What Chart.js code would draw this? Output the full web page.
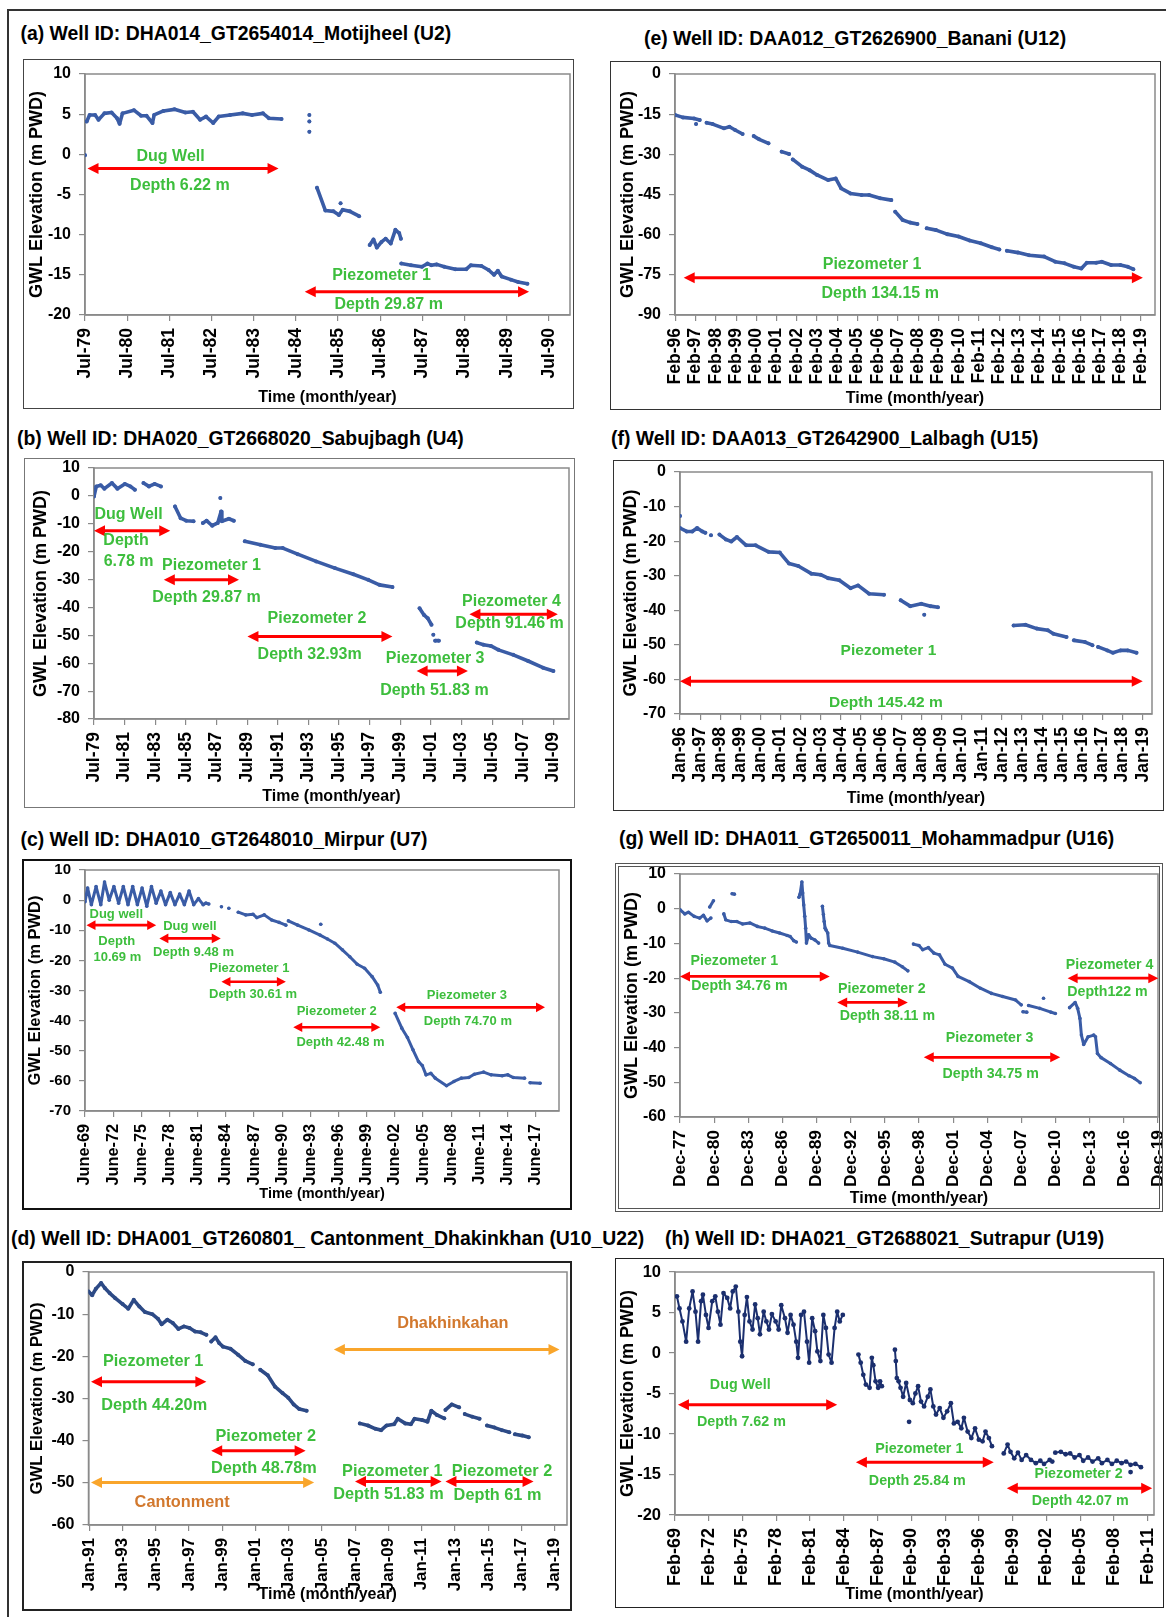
<!DOCTYPE html>
<html><head><meta charset="utf-8">
<script src="https://cdn.jsdelivr.net/npm/chart.js@4/dist/chart.umd.min.js"></script>
<style>
body{margin:0;background:#fff;}
#page{position:relative;width:1166px;height:1617px;background:#fff;overflow:hidden;font-family:"Liberation Sans",Arial,sans-serif;}
.ttl{position:absolute;font-weight:bold;font-size:19.4px;line-height:1;color:#000;white-space:nowrap;}
.box{position:absolute;box-sizing:border-box;pointer-events:none;}
canvas{position:absolute;}
#frameL{position:absolute;left:7px;top:9px;width:1.5px;height:1610px;background:#333;}
#frameT{position:absolute;left:7px;top:9px;width:1160px;height:1.5px;background:#333;}
</style></head>
<body><div id="page"><div id="frameL"></div><div id="frameT"></div></div>
<script>
// ---------------- (a) Motijheel ----------------
const aTicks = [1979.5,1980.5,1981.5,1982.5,1983.5,1984.5,1985.5,1986.5,1987.5,1988.5,1989.5,1990.5];
const aTickLabels = ['Jul-79','Jul-80','Jul-81','Jul-82','Jul-83','Jul-84','Jul-85','Jul-86','Jul-87','Jul-88','Jul-89','Jul-90'];
const aYears = [
 [1979.5],
 [1979.54,1979.61,1979.74,1979.82,1979.96,1980.13,1980.26,1980.32,1980.39,1980.66,1980.83,1980.96,1981.10,1981.14,1981.36,1981.62,1981.88,1982.06,1982.23,1982.37,1982.54,1982.67,1982.94,1983.24,1983.46,1983.72,1983.86,1984.16],
 [1984.82],[1984.82],[1984.82],
 [1985.0,1985.2,1985.39,1985.52,1985.61,1985.78,1986.0],
 [1985.56],
 [1986.25,1986.34,1986.42,1986.53,1986.63,1986.75,1986.86,1986.95,1986.99],
 [1987.0,1987.23,1987.49,1987.62,1987.71,1987.84,1988.02,1988.28,1988.54,1988.65,1988.9,1989.07,1989.2,1989.29,1989.38,1989.6,1989.77,1989.99]
];
const aLevels = [
 [-0.1],
 [4.1,4.9,4.9,4.3,5.1,5.2,4.5,3.8,5.1,5.5,4.8,4.8,3.9,4.9,5.4,5.6,5.2,5.3,4.3,4.7,3.9,4.7,4.9,5.1,4.9,5.1,4.5,4.4],
 [4.9],[4.1],[2.8],
 [-4.15,-7.0,-7.1,-7.55,-6.9,-7.1,-7.7],
 [-6.1],
 [-11.3,-10.6,-11.6,-10.9,-10.5,-11.1,-9.4,-9.8,-10.5],
 [-13.6,-13.8,-14.0,-13.6,-13.8,-13.7,-14.0,-14.3,-14.3,-13.8,-13.9,-14.4,-15.0,-14.5,-15.2,-15.6,-15.9,-16.1]
];
const aArrows = [[1979.56,1984.09,-1.75],[1984.71,1990.03,-17.1]];
const aNotes = [['Dug Well',1981.53,-0.3],['Depth 6.22 m',1981.75,-3.9],['Piezometer 1',1986.53,-15.15],['Depth 29.87 m',1986.7,-18.75]];

// ---------------- (e) Banani ----------------
const eTicks = [1996.08,1997.08,1998.08,1999.08,2000.08,2001.08,2002.08,2003.08,2004.08,2005.08,2006.08,2007.08,2008.08,2009.08,2010.08,2011.08,2012.08,2013.08,2014.08,2015.08,2016.08,2017.08,2018.08,2019.08];
const eTickLabels = ['Feb-96','Feb-97','Feb-98','Feb-99','Feb-00','Feb-01','Feb-02','Feb-03','Feb-04','Feb-05','Feb-06','Feb-07','Feb-08','Feb-09','Feb-10','Feb-11','Feb-12','Feb-13','Feb-14','Feb-15','Feb-16','Feb-17','Feb-18','Feb-19'];
const eYears = [
 [1996.06,1996.45,1997.0,1997.28],
 [1997.1],
 [1997.62,1997.92,1998.48,1998.75,1999.03,1999.4],
 [1999.95,2000.22,2000.68],
 [2001.33,2001.7],
 [2001.88,2002.34,2002.71,2003.08,2003.63,2004.0,2004.27,2004.73,2005.28,2005.65,2006.2,2006.75],
 [2006.94,2007.31,2007.68,2008.04],
 [2008.5,2008.96,2009.51,2010.07,2010.62,2011.17,2011.72,2012.09],
 [2012.46,2013.01,2013.56,2014.3,2014.85,2015.31,2015.77,2016.14,2016.41,2016.87,2017.15,2017.61,2018.07,2018.44,2018.71]
];
const eLevels = [
 [-15.3,-16.2,-16.6,-17.2],
 [-18.7],
 [-18.2,-18.7,-20.3,-19.7,-20.9,-22.4],
 [-23.2,-24.4,-25.9],
 [-29.0,-29.9],
 [-31.9,-34.6,-35.9,-37.7,-39.6,-39.0,-42.7,-44.6,-45.2,-45.2,-46.4,-47.1],
 [-51.4,-54.5,-55.5,-56.0],
 [-57.6,-58.3,-59.8,-60.7,-62.2,-63.2,-64.7,-65.5],
 [-66.0,-66.7,-67.7,-68.2,-70.1,-70.7,-72.0,-72.6,-70.5,-70.5,-70.1,-71.3,-71.3,-72.0,-72.9]
];
const eArrows = [[1996.49,2019.18,-76.1]];
const eNotes = [['Piezometer 1',2005.8,-71.3],['Depth 134.15 m',2006.2,-81.9]];

// ---------------- (b) Sabujbagh ----------------
const bTicks = [1979.5,1981.5,1983.5,1985.5,1987.5,1989.5,1991.5,1993.5,1995.5,1997.5,1999.5,2001.5,2003.5,2005.5,2007.5,2009.5];
const bTickLabels = ['Jul-79','Jul-81','Jul-83','Jul-85','Jul-87','Jul-89','Jul-91','Jul-93','Jul-95','Jul-97','Jul-99','Jul-01','Jul-03','Jul-05','Jul-07','Jul-09'];
const bYears = [
 [1979.5,1979.65,1979.94,1980.18,1980.67,1981.03,1981.51,1981.88,1982.17],
 [1982.73,1983.09,1983.46,1983.87],
 [1984.79,1985.16,1985.52,1986.0],
 [1986.61,1986.85,1987.22,1987.58,1987.8,1987.85,1988.31,1988.63],
 [1987.75],
 [1989.35,1990.37,1991.34,1991.83,1992.8,1994.01,1995.23,1996.44,1997.41,1998.14,1998.99],
 [2000.76,2001.05,2001.3,2001.54],
 [2001.66],
 [2001.78,2002.02],
 [2004.5,2004.94,2005.42,2005.91,2006.88,2007.85,2008.82,2009.5]
];
const bLevels = [
 [-0.2,3.4,3.8,2.6,4.6,2.6,4.3,3.4,2.2],
 [4.6,3.4,4.3,3.4],
 [-3.8,-8.0,-8.9,-9.1],
 [-9.7,-8.9,-10.7,-9.7,-5.6,-9.1,-8.2,-8.9],
 [-0.8],
 [-16.3,-17.5,-18.7,-18.7,-20.9,-23.5,-25.9,-28.1,-30.1,-31.9,-32.7],
 [-40.3,-42.7,-43.9,-46.2],
 [-49.8],
 [-51.9,-51.9],
 [-52.6,-53.4,-53.8,-55.2,-57.0,-59.2,-61.6,-62.8]
];
const bArrows = [[1979.5,1984.48,-12.5],[1984.06,1988.97,-30.1],[1989.52,1998.99,-50.4],[2000.57,2003.92,-62.8],[2004.02,2009.79,-42.4]];
const bNotes = [['Dug Well',1981.76,-6.8],['Depth',1981.59,-16.1],['6.78 m',1981.76,-23.5],['Piezometer 1',1987.17,-24.9],['Depth 29.87 m',1986.85,-36.4],['Piezometer 2',1994.06,-43.9],['Depth 32.93m',1993.58,-56.8],['Piezometer 3',2001.78,-58.5],['Depth 51.83 m',2001.73,-69.9],['Piezometer 4',2006.76,-37.9],['Depth 91.46 m',2006.64,-45.9]];

// ---------------- (f) Lalbagh ----------------
const fTicks = [1996,1997,1998,1999,2000,2001,2002,2003,2004,2005,2006,2007,2008,2009,2010,2011,2012,2013,2014,2015,2016,2017,2018,2019];
const fTickLabels = ['Jan-96','Jan-97','Jan-98','Jan-99','Jan-00','Jan-01','Jan-02','Jan-03','Jan-04','Jan-05','Jan-06','Jan-07','Jan-08','Jan-09','Jan-10','Jan-11','Jan-12','Jan-13','Jan-14','Jan-15','Jan-16','Jan-17','Jan-18','Jan-19'];
const fYears = [
 [1996.0],
 [1996.0,1996.33,1996.61,1996.85,1997.11,1997.26],
 [1997.54],
 [1997.96,1998.28,1998.55,1998.83,1999.29,1999.76,2000.4,2000.96,2001.42,2001.88,2002.53,2002.99,2003.36,2003.92,2004.48,2004.85,2005.4,2006.14],
 [2006.97,2007.44,2007.99,2008.45,2008.82],
 [2008.14],
 [2012.58,2013.17,2013.73,2014.28,2014.56,2015.21],
 [2015.58,2016.13,2016.5],
 [2016.78,2017.24,2017.52,2017.89,2018.26,2018.69]
];
const fLevels = [
 [-12.7],
 [-16.2,-17.2,-17.2,-16.2,-17.2,-17.6],
 [-18.3],
 [-18.1,-19.5,-20.1,-18.8,-21.2,-21.2,-23.1,-23.3,-26.5,-27.2,-29.4,-29.7,-30.7,-31.3,-33.6,-32.8,-35.2,-35.5],
 [-37.1,-38.8,-38.1,-38.8,-39.1],
 [-41.3],
 [-44.4,-44.2,-45.3,-45.8,-46.8,-47.7],
 [-48.7,-49.2,-50.1],
 [-50.6,-51.6,-52.3,-51.6,-51.6,-52.3]
];
const fArrows = [[1996.0,2019.0,-60.5]];
const fNotes = [['Piezometer 1',2006.36,-51.6],['Depth 145.42 m',2006.23,-66.7]];

// ---------------- (c) Mirpur ----------------
const cTicks = [1969.42,1972.42,1975.42,1978.42,1981.42,1984.42,1987.42,1990.42,1993.42,1996.42,1999.42,2002.42,2005.42,2008.42,2011.42,2014.42,2017.42];
const cTickLabels = ['June-69','June-72','June-75','June-78','June-81','June-84','June-87','June-90','June-93','June-96','June-99','June-02','June-05','June-08','June-11','June-14','June-17'];
const cYears = [
 [1969.42,1969.7,1970.1,1970.6,1971.1,1971.5,1972.0,1972.5,1973.0,1973.5,1974.0,1974.5,1975.0,1975.5,1976.0,1976.5,1977.0,1977.5,1978.0,1978.5,1979.0,1979.5,1980.0,1980.5,1981.0,1981.5,1982.0,1982.3,1982.6],
 [1983.95],[1984.74],
 [1985.74,1986.53,1987.32,1987.72,1988.51,1989.3,1990.09,1990.81],
 [1991.08,1992.07,1993.26,1994.45,1995.24,1996.03,1996.83,1997.62,1998.41,1999.2,2000.0,2000.59,2000.87],
 [1994.53],
 [2002.45,2003.16,2003.76,2004.35,2004.94,2005.34,2005.74,2006.25,2006.73,2007.92,2008.71,2009.5,2010.29,2010.88,2011.87,2012.67,2013.85,2014.45,2015.04,2016.23],
 [2016.82,2017.89]
];
const cLevels = [
 [-0.5,4.0,-1.5,4.5,-1.5,6.0,0.0,4.5,-1.0,4.5,-1.5,4.5,-1.5,4.0,-2.0,4.5,-1.0,3.0,-1.5,2.5,-1.5,2.0,-1.5,3.0,-1.5,0.5,-1.5,-1.0,-1.3],
 [-2.2],[-2.7],
 [-4.0,-4.9,-4.7,-5.8,-4.9,-6.6,-7.4,-8.3],
 [-6.9,-8.3,-9.9,-11.6,-12.9,-14.3,-16.5,-18.8,-21.3,-22.6,-25.4,-28.2,-30.6],
 [-8.0],
 [-37.6,-42.5,-45.6,-49.7,-53.6,-54.9,-58.0,-57.5,-59.1,-61.6,-60.2,-59.1,-58.9,-57.8,-57.1,-58.0,-58.3,-58.0,-58.9,-59.1],
 [-60.6,-60.8]
];
const cArrows = [[1969.58,1977.0,-8.3],[1977.34,1983.88,-12.7],[1983.95,1990.81,-27.1],[1991.6,2000.87,-42.2],[2002.57,2018.41,-35.6]];
const cNotes = [['Dug well',1972.75,-4.9],['Depth',1972.8,-13.6],['10.69 m',1972.87,-19.1],['Dug well',1980.59,-8.6],['Depth 9.48 m',1980.98,-17.3],['Piezometer 1',1986.92,-22.6],['Depth 30.61 m',1987.32,-31.3],['Piezometer 2',1996.23,-37.0],['Depth 42.48 m',1996.63,-47.3],['Piezometer 3',2010.09,-31.5],['Depth 74.70 m',2010.2,-40.3]];

// ---------------- (g) Mohammadpur ----------------
const gTicks = [1977.92,1980.92,1983.92,1986.92,1989.92,1992.92,1995.92,1998.92,2001.92,2004.92,2007.92,2010.92,2013.92,2016.92,2019.92];
const gTickLabels = ['Dec-77','Dec-80','Dec-83','Dec-86','Dec-89','Dec-92','Dec-95','Dec-98','Dec-01','Dec-04','Dec-07','Dec-10','Dec-13','Dec-16','Dec-19'];
const gYears = [
 [1977.92,1978.34,1978.67,1979.16,1979.65,1979.98,1980.3,1980.63],
 [1980.53,1980.86],
 [1981.77,1981.94,1982.43,1982.92,1983.41,1984.06,1984.71,1985.37,1986.02,1986.67,1987.33,1987.6,1987.91,1988.14],
 [1982.5,1982.7],
 [1988.37,1988.47,1988.63,1988.7,1988.79,1988.88,1988.96,1989.03,1989.22,1989.45,1989.77,1990.1],
 [1990.43,1990.52,1990.59,1990.67,1990.75,1990.9,1990.98,1991.08,1992.22,1993.53,1994.84,1995.82,1996.8,1997.45,1997.94],
 [1998.43,1998.92,1999.25,1999.74,2000.23,2000.72,2001.21,2001.86,2002.35,2003.33,2004.31,2005.29,2006.27,2007.41,2007.9],
 [2008.06,2008.39],
 [2008.55,2009.53,2010.51,2010.9],
 [2009.86],
 [2012.15,2012.64,2012.86,2013.06,2013.19,2013.39,2013.78,2014.27,2014.43,2014.6,2014.92,2015.74,2016.56,2017.37,2017.86,2018.35]
];
const gLevels = [
 [-0.3,-1.5,-1.0,-2.2,-2.7,-1.9,-3.5,-2.7],
 [0.5,2.3],
 [-1.5,-3.2,-3.7,-3.7,-4.4,-4.1,-5.1,-5.6,-6.4,-7.0,-7.7,-8.0,-9.2,-9.6],
 [4.3,4.2],
 [3.3,4.2,7.7,4.5,1.1,-2.2,-5.6,-9.9,-7.5,-8.5,-9.0,-9.9],
 [0.7,-1.7,-3.7,-5.6,-6.1,-7.0,-9.9,-10.6,-11.4,-12.5,-13.8,-14.4,-15.4,-16.7,-17.9],
 [-10.2,-10.6,-11.8,-11.2,-12.8,-13.3,-16.0,-17.1,-19.5,-21.0,-22.9,-24.4,-25.3,-26.3,-27.7],
 [-29.7,-29.8],
 [-27.9,-28.7,-29.8,-30.2],
 [-25.8],
 [-28.5,-27.0,-28.7,-31.6,-36.4,-39.1,-36.9,-36.4,-36.9,-41.7,-42.9,-44.6,-46.5,-48.1,-48.9,-50.1]
];
const gArrows = [[1977.92,1991.08,-19.5],[1991.73,1997.94,-27.0],[1999.34,2011.33,-42.8],[2011.98,2019.95,-20.0]];
const gNotes = [['Piezometer 1',1982.69,-15.0],['Depth 34.76 m',1983.14,-22.4],['Piezometer 2',1995.65,-23.1],['Depth 38.11 m',1996.14,-30.8],['Piezometer 3',2005.12,-37.4],['Depth 34.75 m',2005.22,-47.5],['Piezometer 4',2015.67,-16.2],['Depth122 m',2015.48,-23.9]];

// ---------------- (d) Cantonment_Dhakinkhan ----------------
const dTicks = [1991,1993,1995,1997,1999,2001,2003,2005,2007,2009,2011,2013,2015,2017,2019];
const dTickLabels = ['Jan-91','Jan-93','Jan-95','Jan-97','Jan-99','Jan-01','Jan-03','Jan-05','Jan-07','Jan-09','Jan-11','Jan-13','Jan-15','Jan-17','Jan-19'];
const dYears = [
 [1990.96,1991.18,1991.4,1991.72,1991.94,1992.23,1992.57,1993.01,1993.35,1993.68,1994.02,1994.35,1994.8,1995.14,1995.36,1995.7,1996.03,1996.37,1996.7,1997.04,1997.37,1997.71,1998.05],
 [1998.34,1998.6,1998.83,1999.05,1999.5,1999.95,2000.39,2000.84],
 [2001.29,2001.74,2002.18,2002.63,2002.97,2003.3,2003.64,2004.08],
 [2007.28,2007.77,2008.22,2008.56,2008.89,2009.34,2009.56,2010.01,2010.35,2010.57,2011.02,2011.35,2011.58,2011.91,2012.36],
 [2012.43,2012.81,2013.25],
 [2013.59,2014.04,2014.48],
 [2014.93,2015.38,2015.83,2016.27],
 [2016.61,2017.06,2017.44]
];
const dLevels = [
 [-4.6,-5.5,-4.0,-2.6,-3.8,-5.0,-6.2,-7.6,-8.7,-6.6,-8.2,-9.5,-10.0,-11.1,-12.4,-11.3,-12.1,-13.5,-12.9,-13.3,-14.1,-14.3,-14.9],
 [-16.5,-15.5,-16.9,-17.7,-18.2,-19.6,-21.1,-21.9],
 [-23.2,-24.5,-27.2,-28.7,-29.8,-31.4,-32.5,-32.9],
 [-35.9,-36.4,-37.2,-37.5,-36.4,-36.1,-34.8,-35.9,-36.1,-34.8,-35.1,-35.5,-32.9,-33.9,-34.7],
 [-32.7,-31.4,-32.1],
 [-33.7,-34.3,-34.8],
 [-36.4,-36.9,-37.5,-38.0],
 [-38.5,-38.8,-39.2]
];
const dArrows = [[1991.11,1998.05,-26.0],[1998.34,2004.02,-42.4],[1991.11,2004.53,-49.9,'#F9A52B'],[2005.72,2019.29,-18.4,'#F9A52B'],[2006.99,2012.2,-49.7],[2012.43,2017.73,-49.7]];
const dNotes = [['Piezometer 1',1994.85,-21.2],['Depth 44.20m',1994.91,-31.7],['Piezometer 2',2001.62,-39.1],['Depth 48.78m',2001.51,-46.6],['Cantonment',1996.59,-54.6,'#D2782D'],['Dhakhinkahan',2012.87,-12.1,'#D2782D'],['Piezometer 1',2009.23,-47.2],['Depth 51.83 m',2009.0,-52.7],['Piezometer 2',2015.83,-47.2],['Depth 61 m',2015.56,-53.0]];

// ---------------- (h) Sutrapur ----------------
const hTicks = [1969.08,1972.08,1975.08,1978.08,1981.08,1984.08,1987.08,1990.08,1993.08,1996.08,1999.08,2002.08,2005.08,2008.08,2011.08];
const hTickLabels = ['Feb-69','Feb-72','Feb-75','Feb-78','Feb-81','Feb-84','Feb-87','Feb-90','Feb-93','Feb-96','Feb-99','Feb-02','Feb-05','Feb-08','Feb-11'];
const hYears = [
 [1969.25,1969.48,1969.74,1970.07,1970.34,1970.64,1970.9,1971.13,1971.4,1971.56,1971.83,1972.06,1972.39,1972.66,1972.89,1973.12,1973.39,1973.72,1973.98,1974.21,1974.48,1974.71,1974.88,1975.04,1975.27,1975.47,1975.7,1975.97,1976.2,1976.43,1976.63,1976.96,1977.2,1977.43,1977.69,1978.02,1978.29,1978.52,1978.85,1979.08,1979.35,1979.61,1979.85,1980.01,1980.28,1980.54,1980.81,1981.0,1981.27,1981.53,1981.73,1982.0,1982.26,1982.49,1982.73,1982.99,1983.26,1983.49,1983.72,1983.99],
 [1985.38,1985.58,1985.81,1986.04,1986.37,1986.57,1986.7,1986.9,1987.13,1987.3,1987.46],
 [1988.62,1988.7,1988.79,1988.95,1989.12,1989.35,1989.62,1989.95,1990.21,1990.44,1990.68,1990.94,1991.21,1991.54,1991.77,1992.03,1992.27,1992.6,1992.93,1993.26,1993.59,1993.86,1994.19,1994.52,1994.75,1995.08,1995.41,1995.74,1996.08,1996.41,1996.67,1996.97,1997.24],
 [1989.88],
 [1998.29,1998.63,1998.89,1999.22,1999.55,1999.88,2000.28,2000.71,2001.14,2001.54,2001.87,2002.37,2002.6],
 [2002.87,2003.36,2003.79,2004.19,2004.59,2005.02,2005.35,2005.78,2006.18,2006.68,2007.01,2007.5,2007.9,2008.33,2008.76,2009.16,2009.56,2009.99,2010.48],
 [2009.56]
];
const hLevels = [
 [7.0,5.5,3.9,1.4,5.5,7.6,5.1,1.4,6.4,7.2,4.7,3.1,6.4,7.0,5.1,3.5,7.4,6.8,5.5,7.6,8.2,5.1,1.4,-0.4,4.7,6.9,3.9,2.9,6.0,4.3,2.3,5.1,3.9,2.9,4.8,3.9,2.9,5.9,4.3,2.5,4.7,3.5,1.4,-0.6,4.7,5.1,1.4,-1.2,4.3,2.7,0.2,-1.0,4.7,3.1,-0.2,-1.2,3.1,5.1,3.9,4.7],
 [-0.2,-1.2,-2.7,-3.9,-4.3,-0.6,-1.5,-3.5,-4.3,-3.5,-4.1],
 [0.4,-1.0,-3.1,-3.5,-4.3,-5.4,-3.7,-5.8,-6.2,-5.0,-4.1,-6.0,-6.6,-5.4,-4.5,-6.6,-7.6,-6.8,-8.0,-7.2,-6.2,-8.7,-8.5,-9.3,-8.0,-9.7,-10.5,-9.3,-10.7,-10.9,-9.7,-10.5,-11.5],
 [-8.5],
 [-12.4,-11.3,-12.2,-13.0,-12.3,-13.2,-12.6,-13.2,-13.6,-13.3,-13.7,-13.2,-13.4],
 [-12.3,-12.2,-12.5,-12.4,-12.9,-12.6,-13.3,-12.9,-13.4,-13.0,-13.6,-13.2,-13.7,-13.3,-13.6,-13.4,-13.8,-13.7,-14.1],
 [-14.7]
];
const hArrows = [[1969.34,1983.49,-6.4],[1985.15,1997.4,-13.5],[1998.56,2011.48,-16.7]];
const hNotes = [['Dug Well',1974.88,-3.9],['Depth 7.62 m',1974.98,-8.5],['Piezometer 1',1990.78,-11.8],['Depth 25.84 m',1990.61,-15.75],['Piezometer 2',2004.95,-15.0],['Depth 42.07 m',2005.08,-18.3]];

// ---------------- drawing ----------------
const FONT = '"Liberation Sans", Arial, sans-serif';
const GREEN = '#3DBE3D', RED = '#FF0000';
Chart.defaults.font.family = FONT;

Chart.register({
  id: 'notes',
  beforeDatasetsDraw(chart) {
    const a = chart.chartArea, ctx = chart.ctx;
    ctx.save(); ctx.strokeStyle = '#8A8A8A'; ctx.lineWidth = 1.5;
    ctx.strokeRect(a.left, a.top, a.right - a.left, a.bottom - a.top);
    ctx.restore();
  },
  afterDatasetsDraw(chart, args, o) {
    const ctx = chart.ctx, sx = chart.scales.x, sy = chart.scales.y;
    ctx.save();
    (o.arrows || []).forEach(r => {
      const x1 = sx.getPixelForValue(r[0]), x2 = sx.getPixelForValue(r[1]), y = sy.getPixelForValue(r[2]);
      const c = r[3] || RED;
      ctx.strokeStyle = c; ctx.fillStyle = c; ctx.lineWidth = o.lw;
      ctx.beginPath(); ctx.moveTo(x1 + o.hl * 0.8, y); ctx.lineTo(x2 - o.hl * 0.8, y); ctx.stroke();
      ctx.beginPath(); ctx.moveTo(x1, y); ctx.lineTo(x1 + o.hl, y - o.hw); ctx.lineTo(x1 + o.hl, y + o.hw); ctx.closePath(); ctx.fill();
      ctx.beginPath(); ctx.moveTo(x2, y); ctx.lineTo(x2 - o.hl, y - o.hw); ctx.lineTo(x2 - o.hl, y + o.hw); ctx.closePath(); ctx.fill();
    });
    ctx.font = 'bold ' + o.size + 'px ' + FONT;
    ctx.textAlign = 'center'; ctx.textBaseline = 'middle';
    (o.texts || []).forEach(t => {
      ctx.fillStyle = t[3] || GREEN;
      ctx.fillText(t[0], sx.getPixelForValue(t[1]), sy.getPixelForValue(t[2]));
    });
    ctx.restore();
  }
});

function buildSets(segX, segY, color, lw, pr) {
  return segX.map((xs, i) => ({
    data: xs.map((x, j) => ({x: x, y: segY[i][j]})),
    showLine: true, borderColor: color, backgroundColor: color, borderWidth: lw,
    pointRadius: pr, pointBorderWidth: 0, pointBackgroundColor: color, tension: 0,
    borderJoinStyle: 'round', borderCapStyle: 'round'
  }));
}

function panel(p) {
  const page = document.getElementById('page');
  const [bL, bT, bR, bB] = p.box, [pL, pT, pR, pB] = p.plot;
  const W = bR - bL, H = bB - bT;
  const t = document.createElement('div');
  t.className = 'ttl'; t.textContent = p.title;
  t.style.left = p.tpos[0] + 'px'; t.style.top = (p.tpos[1] - 9.5) + 'px';
  page.appendChild(t);
  const cv = document.createElement('canvas');
  cv.width = W; cv.height = H;
  cv.style.left = bL + 'px'; cv.style.top = bT + 'px'; cv.style.width = W + 'px'; cv.style.height = H + 'px';
  page.appendChild(cv);
  const fr = document.createElement('div');
  fr.className = 'box';
  fr.style.left = bL + 'px'; fr.style.top = bT + 'px'; fr.style.width = W + 'px'; fr.style.height = H + 'px';
  fr.style.border = p.border;
  page.appendChild(fr);
  const axisGrey = '#8A8A8A';
  new Chart(cv, {
    type: 'scatter',
    data: {datasets: buildSets(p.xs, p.ys, p.color, p.lw, p.pr)},
    options: {
      responsive: false, animation: false, devicePixelRatio: 1,
      layout: {padding: {left: 0, top: pT - bT, right: bR - pR, bottom: 0}},
      plugins: {legend: {display: false}, tooltip: {enabled: false},
        notes: {arrows: p.arrows, texts: p.notes, size: p.noteSize, lw: p.alw, hl: p.ahl, hw: p.ahw}},
      scales: {
        x: {
          type: 'linear', position: 'bottom', min: p.xmin, max: p.xmax,
          afterBuildTicks: s => { s.ticks = p.ticks.map(v => ({value: v})); },
          afterFit: s => { s.height = bB - pB; s.paddingLeft = 0; s.paddingRight = 0; },
          ticks: {autoSkip: false, minRotation: 90, maxRotation: 90, padding: 7, color: '#000',
            font: {family: FONT, weight: 'bold', size: p.xtSize}, callback: (v, i) => p.labels[i]},
          grid: {display: true, drawOnChartArea: false, drawTicks: true, tickLength: 6, color: axisGrey, lineWidth: 1.2},
          border: {display: true, color: axisGrey, width: 1.5},
          title: {display: true, text: 'Time (month/year)', color: '#000',
            font: {family: FONT, weight: 'bold', size: p.xTitleSize}, padding: {top: 0, bottom: p.xTitlePad}}
        },
        y: {
          type: 'linear', min: p.ymin, max: p.ymax,
          afterFit: s => { s.width = pL - bL; s.paddingTop = 0; s.paddingBottom = 0; },
          ticks: {stepSize: p.ystep, padding: 8, color: '#000', font: {family: FONT, weight: 'bold', size: p.ytSize}},
          grid: {display: true, drawOnChartArea: false, drawTicks: true, tickLength: 6, color: axisGrey, lineWidth: 1.2},
          border: {display: true, color: axisGrey, width: 1.5},
          title: {display: true, text: 'GWL Elevation (m PWD)', color: '#000',
            font: {family: FONT, weight: 'bold', size: p.yTitleSize}, padding: {top: p.yTitlePad, bottom: 0}}
        }
      }
    }
  });
}

const BLUE = '#3A5CA6', NAVY = '#1B2F6E';
const common = {color: BLUE, lw: 3.6, pr: 2, alw: 3, ahl: 11, ahw: 5.5, xTitleSize: 16, ytSize: 16, xtSize: 17.5, yTitleSize: 18};

panel(Object.assign({}, common, {
  title: '(a) Well ID: DHA014_GT2654014_Motijheel (U2)', tpos: [20.5, 33],
  box: [23, 59, 574, 409], plot: [85, 74, 571.5, 315], border: '1px solid #444',
  xmin: 1979.5, xmax: 1991.0, ticks: aTicks, labels: aTickLabels, ymin: -20, ymax: 10, ystep: 5,
  xs: aYears, ys: aLevels, arrows: aArrows, notes: aNotes, noteSize: 16,
  xTitlePad: 2.1, yTitlePad: 3.4
}));
panel(Object.assign({}, common, {
  title: '(e) Well ID: DAA012_GT2626900_Banani (U12)', tpos: [644, 38],
  box: [610, 61, 1161, 410], plot: [675, 74, 1155, 315], border: '1.5px solid #333',
  xmin: 1996.06, xmax: 2019.78, ticks: eTicks, labels: eTickLabels, ymin: -90, ymax: 0, ystep: 15,
  xs: eYears, ys: eLevels, arrows: eArrows, notes: eNotes, noteSize: 16,
  xTitlePad: 2.1, yTitlePad: 7.6
}));
panel(Object.assign({}, common, {
  title: '(b) Well ID: DHA020_GT2668020_Sabujbagh (U4)', tpos: [17, 438],
  box: [24, 458, 575, 808], plot: [94, 468, 569, 719], border: '1px solid #777',
  xmin: 1979.5, xmax: 2010.52, ticks: bTicks, labels: bTickLabels, ymin: -80, ymax: 10, ystep: 10,
  xs: bYears, ys: bLevels, arrows: bArrows, notes: bNotes, noteSize: 16,
  xTitlePad: 1.7, yTitlePad: 6.1
}));
panel(Object.assign({}, common, {
  title: '(f) Well ID: DAA013_GT2642900_Lalbagh (U15)', tpos: [611, 438],
  box: [613, 460, 1164, 811], plot: [680, 472, 1152, 714], border: '1.5px solid #333',
  xmin: 1996.0, xmax: 2019.46, ticks: fTicks, labels: fTickLabels, ymin: -70, ymax: 0, ystep: 10,
  xs: fYears, ys: fLevels, arrows: fArrows, notes: fNotes, noteSize: 15.5,
  xTitlePad: 3.1, yTitlePad: 7.5
}));
panel(Object.assign({}, common, {
  title: '(c) Well ID: DHA010_GT2648010_Mirpur (U7)', tpos: [20.5, 839],
  box: [22, 859, 572, 1210], plot: [85, 870, 559, 1111], border: '2.5px solid #111',
  xmin: 1969.42, xmax: 2019.9, ticks: cTicks, labels: cTickLabels, ymin: -70, ymax: 10, ystep: 10,
  xs: cYears, ys: cLevels, arrows: cArrows, notes: cNotes, noteSize: 13,
  lw: 3, pr: 1.8,
  xtSize: 16.3, ytSize: 15, xTitleSize: 14.5, yTitleSize: 16.5, alw: 2.6, ahl: 9, ahw: 4.8,
  xTitlePad: 7.1, yTitlePad: 3.4
}));
panel(Object.assign({}, common, {
  title: '(g) Well ID: DHA011_GT2650011_Mohammadpur (U16)', tpos: [619, 838],
  box: [615, 863, 1163, 1212], plot: [680, 874, 1158, 1117], border: '4px double #555',
  xmin: 1977.92, xmax: 2019.92, ticks: gTicks, labels: gTickLabels, ymin: -60, ymax: 10, ystep: 10,
  xs: gYears, ys: gLevels, arrows: gArrows, notes: gNotes, noteSize: 14.2,
  lw: 3, pr: 1.8,
  xtSize: 17.4, alw: 2.8, ahl: 10, ahw: 5,
  xTitlePad: 4.1, yTitlePad: 6.2
}));
panel(Object.assign({}, common, {
  title: '(d) Well ID: DHA001_GT260801_ Cantonment_Dhakinkhan (U10_U22)', tpos: [11, 1238],
  box: [22, 1261, 572, 1611], plot: [88.5, 1272, 567, 1525], border: '2px solid #222',
  xmin: 1990.96, xmax: 2019.74, ticks: dTicks, labels: dTickLabels, ymin: -60, ymax: 0, ystep: 10,
  xs: dYears, ys: dLevels, arrows: dArrows, notes: dNotes, noteSize: 16.3,
  color: '#2D4A86', xtSize: 16.8, yTitleSize: 16.7,
  xTitlePad: 6.4, yTitlePad: 5.2
}));
panel(Object.assign({}, common, {
  title: '(h) Well ID: DHA021_GT2688021_Sutrapur (U19)', tpos: [665, 1238],
  box: [615, 1258, 1164, 1608], plot: [675, 1272, 1154, 1515], border: '1.5px solid #222',
  xmin: 1969.08, xmax: 2011.64, ticks: hTicks, labels: hTickLabels, ymin: -20, ymax: 10, ystep: 5,
  xs: hYears, ys: hLevels, arrows: hArrows, notes: hNotes, noteSize: 14.3,
  color: NAVY, lw: 2, pr: 2.4, xtSize: 18, ytSize: 16.5,
  xTitlePad: 3.4, yTitlePad: 1.8
}));
</script>
</body></html>
